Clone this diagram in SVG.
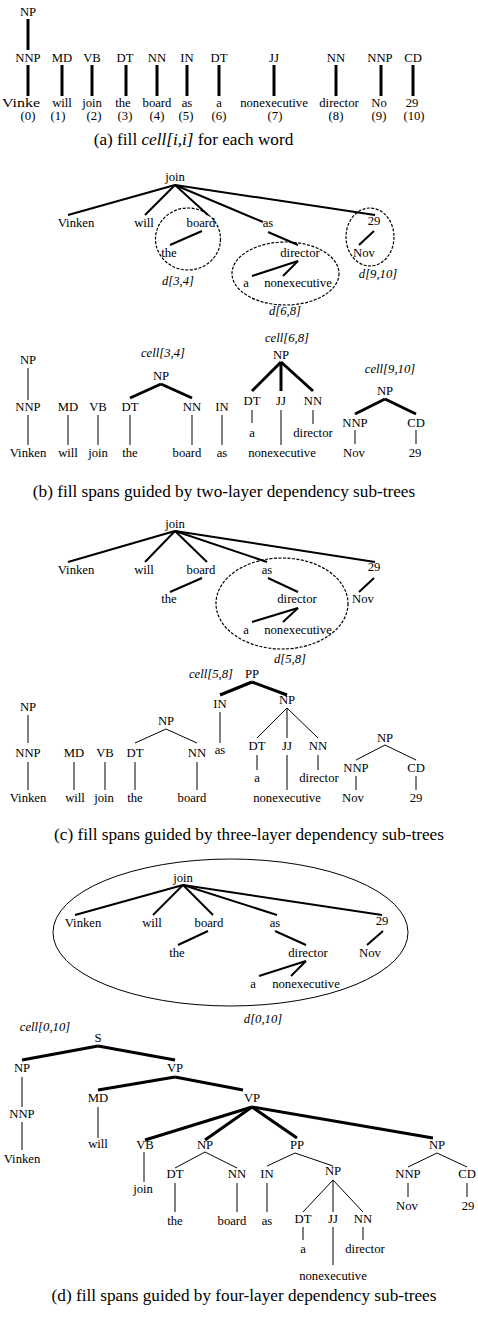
<svg xmlns="http://www.w3.org/2000/svg" width="478" height="1321" viewBox="0 0 478 1321">
<style>
text{font-family:"Liberation Serif","Times New Roman",serif;font-size:12.7px;text-anchor:middle;fill:#000}
.i{font-style:italic}
.cap{font-size:17.2px}
.k{stroke:#000;stroke-width:3;fill:none}
.d{stroke:#000;stroke-width:2;fill:none}
.n{stroke:#000;stroke-width:1;fill:none}
.e{fill:none;stroke:#000;stroke-width:1.2;stroke-dasharray:3 1.5}
.o{fill:none;stroke:#000;stroke-width:1}
</style>
<rect width="478" height="1321" fill="#fff"/>

<!-- ========== (a) ========== -->
<g id="a-nodes">
<g id="a-np"><text x="28" y="16">NP</text></g>
<g id="a-nnp"><text x="28" y="62">NNP</text></g>
<g id="a-md"><text x="62" y="62">MD</text></g>
<g id="a-vb"><text x="92" y="62">VB</text></g>
<g id="a-dt1"><text x="125" y="62">DT</text></g>
<g id="a-nn1"><text x="157" y="62">NN</text></g>
<g id="a-in"><text x="187" y="62">IN</text></g>
<g id="a-dt2"><text x="219" y="62">DT</text></g>
<g id="a-jj"><text x="274" y="62">JJ</text></g>
<g id="a-nn2"><text x="336" y="62">NN</text></g>
<g id="a-nnp2"><text x="380" y="62">NNP</text></g>
<g id="a-cd"><text x="413" y="62">CD</text></g>
<g id="a-w0"><text x="2" y="107" style="text-anchor:start" textLength="38" lengthAdjust="spacingAndGlyphs">Vinke</text><text x="28" y="119.5">(0)</text></g>
<g id="a-w1"><text x="62" y="107">will</text><text x="58" y="119.5">(1)</text></g>
<g id="a-w2"><text x="92" y="107">join</text><text x="94" y="119.5">(2)</text></g>
<g id="a-w3"><text x="123" y="107">the</text><text x="125" y="119.5">(3)</text></g>
<g id="a-w4"><text x="157" y="107">board</text><text x="157" y="119.5">(4)</text></g>
<g id="a-w5"><text x="187" y="107">as</text><text x="186" y="119.5">(5)</text></g>
<g id="a-w6"><text x="219" y="107">a</text><text x="219" y="119.5">(6)</text></g>
<g id="a-w7"><text x="274" y="107">nonexecutive</text><text x="275" y="119.5">(7)</text></g>
<g id="a-w8"><text x="339" y="107">director</text><text x="336" y="119.5">(8)</text></g>
<g id="a-w9"><text x="379" y="107">No</text><text x="379" y="119.5">(9)</text></g>
<g id="a-w10"><text x="412" y="107">29</text><text x="414" y="119.5">(10)</text></g>
<g id="a-caption"><text class="cap" x="193.5" y="145">(a) fill <tspan class="i">cell[i,i]</tspan> for each word</text></g>
</g>
<g id="a-connectors" class="k">
<line x1="28" y1="19" x2="28" y2="50"/>
<line x1="28" y1="65" x2="28" y2="96"/>
<line x1="62" y1="65" x2="62" y2="96"/>
<line x1="92" y1="65" x2="92" y2="96"/>
<line x1="126" y1="65" x2="126" y2="96"/>
<line x1="157" y1="65" x2="157" y2="96"/>
<line x1="187" y1="65" x2="187" y2="96"/>
<line x1="219" y1="65" x2="219" y2="96"/>
<line x1="274" y1="65" x2="274" y2="96"/>
<line x1="336" y1="65" x2="336" y2="96"/>
<line x1="381" y1="65" x2="381" y2="96"/>
<line x1="413" y1="65" x2="413" y2="96"/>
</g>

<!-- ========== (b) dependency ========== -->
<g id="b-dep-nodes">
<g id="bd-join"><text x="175" y="181">join</text></g>
<g id="bd-vinken"><text x="76" y="227">Vinken</text></g>
<g id="bd-will"><text x="144" y="227">will</text></g>
<g id="bd-board"><text x="201" y="227">board</text></g>
<g id="bd-as"><text x="268" y="227">as</text></g>
<g id="bd-29"><text x="374" y="225">29</text></g>
<g id="bd-the"><text x="169" y="257">the</text></g>
<g id="bd-director"><text x="300" y="257">director</text></g>
<g id="bd-nov"><text x="364" y="257">Nov</text></g>
<g id="bd-a"><text x="246" y="287">a</text></g>
<g id="bd-nonexec"><text x="298" y="287">nonexecutive</text></g>
<g id="bd-d34"><ellipse class="e" cx="188" cy="239" rx="32.5" ry="31"/><text class="i" x="178" y="285">d[3,4]</text></g>
<g id="bd-d68"><ellipse class="e" cx="285.5" cy="273.5" rx="53.5" ry="31.5"/><text class="i" x="285" y="315">d[6,8]</text></g>
<g id="bd-d910"><ellipse class="e" cx="370" cy="237" rx="24" ry="29"/><text class="i" x="378" y="278">d[9,10]</text></g>
</g>
<g id="b-dep-connectors" class="d">
<line x1="175" y1="185" x2="68" y2="215"/>
<line x1="175" y1="185" x2="145" y2="215"/>
<line x1="175" y1="185" x2="208" y2="215"/>
<line x1="175" y1="185" x2="263" y2="222"/>
<line x1="175" y1="185" x2="375" y2="215"/>
<line x1="202" y1="231" x2="170" y2="245"/>
<line x1="268" y1="232" x2="298" y2="245"/>
<line x1="374" y1="231" x2="359" y2="245"/>
<line x1="298" y1="261" x2="252" y2="276"/>
<line x1="298" y1="261" x2="283" y2="276"/>
</g>

<!-- ========== (b) constituency ========== -->
<g id="b-con-nodes">
<g id="bc-np0"><text x="28" y="364">NP</text></g>
<g id="bc-nnp"><text x="28" y="411">NNP</text></g>
<g id="bc-vinken"><text x="28" y="457">Vinken</text></g>
<g id="bc-md"><text x="68" y="411">MD</text></g>
<g id="bc-will"><text x="68" y="457">will</text></g>
<g id="bc-vb"><text x="98" y="411">VB</text></g>
<g id="bc-join"><text x="98" y="457">join</text></g>
<g id="bc-cell34"><text class="i" x="163" y="357">cell[3,4]</text></g>
<g id="bc-np34"><text x="161" y="380">NP</text></g>
<g id="bc-dt3"><text x="130" y="411">DT</text></g>
<g id="bc-the"><text x="130" y="457">the</text></g>
<g id="bc-nn4"><text x="192" y="411">NN</text></g>
<g id="bc-board"><text x="187" y="457">board</text></g>
<g id="bc-in"><text x="222" y="411">IN</text></g>
<g id="bc-as"><text x="222" y="457">as</text></g>
<g id="bc-cell68"><text class="i" x="287" y="342">cell[6,8]</text></g>
<g id="bc-np68"><text x="281" y="359">NP</text></g>
<g id="bc-dt6"><text x="252" y="405">DT</text></g>
<g id="bc-a"><text x="252" y="437">a</text></g>
<g id="bc-jj"><text x="281" y="405">JJ</text></g>
<g id="bc-nonexec"><text x="282" y="457">nonexecutive</text></g>
<g id="bc-nn8"><text x="313" y="405">NN</text></g>
<g id="bc-director"><text x="313" y="437">director</text></g>
<g id="bc-cell910"><text class="i" x="390" y="373">cell[9,10]</text></g>
<g id="bc-np910"><text x="385" y="395">NP</text></g>
<g id="bc-nnp9"><text x="355" y="427">NNP</text></g>
<g id="bc-nov"><text x="354" y="457">Nov</text></g>
<g id="bc-cd"><text x="416" y="427">CD</text></g>
<g id="bc-29"><text x="415" y="457">29</text></g>
<g id="b-caption"><text class="cap" x="224" y="497">(b) fill spans guided by two-layer dependency sub-trees</text></g>
</g>
<g id="b-con-connectors">
<g class="n">
<line x1="28" y1="368" x2="28" y2="400"/>
<line x1="28" y1="415" x2="28" y2="445"/>
<line x1="68" y1="415" x2="68" y2="445"/>
<line x1="98" y1="415" x2="98" y2="445"/>
<line x1="130" y1="415" x2="130" y2="445"/>
<line x1="192" y1="415" x2="192" y2="445"/>
<line x1="222" y1="415" x2="222" y2="445"/>
<line x1="252" y1="410" x2="252" y2="423"/>
<line x1="281" y1="410" x2="281" y2="445"/>
<line x1="313" y1="410" x2="313" y2="424"/>
<line x1="355" y1="430" x2="355" y2="444"/>
<line x1="416" y1="430" x2="416" y2="444"/>
</g>
<g class="k">
<line x1="161" y1="384" x2="130" y2="398"/>
<line x1="161" y1="384" x2="192" y2="398"/>
<line x1="281" y1="362" x2="252" y2="391"/>
<line x1="281" y1="362" x2="281" y2="391"/>
<line x1="281" y1="362" x2="313" y2="391"/>
<line x1="385" y1="399" x2="355" y2="414"/>
<line x1="385" y1="399" x2="416" y2="414"/>
</g>
</g>

<!-- ========== (c) dependency ========== -->
<g id="c-dep-nodes">
<g id="cd-join"><text x="175" y="528">join</text></g>
<g id="cd-vinken"><text x="76" y="574">Vinken</text></g>
<g id="cd-will"><text x="144" y="574">will</text></g>
<g id="cd-board"><text x="201" y="574">board</text></g>
<g id="cd-as"><text x="267" y="574">as</text></g>
<g id="cd-29"><text x="374" y="571">29</text></g>
<g id="cd-the"><text x="169" y="603">the</text></g>
<g id="cd-director"><text x="297" y="603">director</text></g>
<g id="cd-nov"><text x="363" y="603">Nov</text></g>
<g id="cd-a"><text x="246" y="634">a</text></g>
<g id="cd-nonexec"><text x="298" y="634">nonexecutive</text></g>
<g id="cd-d58"><ellipse class="e" cx="282" cy="603.5" rx="66" ry="45.5"/><text class="i" x="290" y="663">d[5,8]</text></g>
</g>
<g id="c-dep-connectors" class="d">
<line x1="175" y1="531" x2="68" y2="562"/>
<line x1="175" y1="531" x2="145" y2="562"/>
<line x1="175" y1="531" x2="207" y2="562"/>
<line x1="175" y1="531" x2="267" y2="562"/>
<line x1="175" y1="531" x2="375" y2="562"/>
<line x1="202" y1="578" x2="170" y2="592"/>
<line x1="268" y1="578" x2="298" y2="592"/>
<line x1="374" y1="578" x2="359" y2="592"/>
<line x1="298" y1="608" x2="252" y2="622"/>
<line x1="298" y1="608" x2="283" y2="622"/>
</g>

<!-- ========== (c) constituency ========== -->
<g id="c-con-nodes">
<g id="cc-cell58"><text class="i" x="211" y="678">cell[5,8]</text></g>
<g id="cc-pp"><text x="252" y="678">PP</text></g>
<g id="cc-in"><text x="220" y="708">IN</text></g>
<g id="cc-as"><text x="220" y="754">as</text></g>
<g id="cc-np68"><text x="287" y="704">NP</text></g>
<g id="cc-dt6"><text x="257" y="750">DT</text></g>
<g id="cc-a"><text x="257" y="782">a</text></g>
<g id="cc-jj"><text x="287" y="750">JJ</text></g>
<g id="cc-nonexec"><text x="287" y="802">nonexecutive</text></g>
<g id="cc-nn8"><text x="318" y="750">NN</text></g>
<g id="cc-director"><text x="319" y="782">director</text></g>
<g id="cc-np0"><text x="28" y="711">NP</text></g>
<g id="cc-nnp"><text x="28" y="757">NNP</text></g>
<g id="cc-vinken"><text x="28" y="802">Vinken</text></g>
<g id="cc-md"><text x="74" y="757">MD</text></g>
<g id="cc-will"><text x="75" y="802">will</text></g>
<g id="cc-vb"><text x="105" y="757">VB</text></g>
<g id="cc-join"><text x="104" y="802">join</text></g>
<g id="cc-np34"><text x="166" y="725">NP</text></g>
<g id="cc-dt3"><text x="135" y="757">DT</text></g>
<g id="cc-the"><text x="135" y="802">the</text></g>
<g id="cc-nn4"><text x="197" y="757">NN</text></g>
<g id="cc-board"><text x="192" y="802">board</text></g>
<g id="cc-np910"><text x="385" y="742">NP</text></g>
<g id="cc-nnp9"><text x="356" y="772">NNP</text></g>
<g id="cc-nov"><text x="353" y="802">Nov</text></g>
<g id="cc-cd"><text x="416" y="772">CD</text></g>
<g id="cc-29"><text x="416" y="802">29</text></g>
<g id="c-caption"><text class="cap" x="249" y="840">(c) fill spans guided by three-layer dependency sub-trees</text></g>
</g>
<g id="c-con-connectors">
<g class="k">
<line x1="252" y1="682" x2="220" y2="695"/>
<line x1="252" y1="682" x2="287" y2="695"/>
</g>
<g class="n">
<line x1="220" y1="712" x2="220" y2="743"/>
<line x1="287" y1="708" x2="257" y2="738"/>
<line x1="287" y1="708" x2="287" y2="738"/>
<line x1="287" y1="708" x2="318" y2="738"/>
<line x1="257" y1="755" x2="257" y2="770"/>
<line x1="287" y1="755" x2="287" y2="790"/>
<line x1="318" y1="755" x2="318" y2="770"/>
<line x1="28" y1="715" x2="28" y2="743"/>
<line x1="28" y1="762" x2="28" y2="790"/>
<line x1="74" y1="762" x2="74" y2="790"/>
<line x1="105" y1="762" x2="105" y2="790"/>
<line x1="166" y1="729" x2="135" y2="743"/>
<line x1="166" y1="729" x2="197" y2="743"/>
<line x1="135" y1="762" x2="135" y2="790"/>
<line x1="197" y1="762" x2="197" y2="790"/>
<line x1="385" y1="745" x2="356" y2="760"/>
<line x1="385" y1="745" x2="416" y2="760"/>
<line x1="356" y1="776" x2="356" y2="790"/>
<line x1="416" y1="776" x2="416" y2="790"/>
</g>
</g>

<!-- ========== (d) dependency ========== -->
<g id="d-dep-nodes">
<g id="dd-d010"><ellipse class="o" cx="230.5" cy="932.5" rx="177.5" ry="73.5"/><text class="i" x="263" y="1023">d[0,10]</text></g>
<g id="dd-join"><text x="183" y="882">join</text></g>
<g id="dd-vinken"><text x="83" y="927">Vinken</text></g>
<g id="dd-will"><text x="152" y="927">will</text></g>
<g id="dd-board"><text x="209" y="927">board</text></g>
<g id="dd-as"><text x="275" y="927">as</text></g>
<g id="dd-29"><text x="382" y="925">29</text></g>
<g id="dd-the"><text x="177" y="957">the</text></g>
<g id="dd-director"><text x="308" y="957">director</text></g>
<g id="dd-nov"><text x="370" y="957">Nov</text></g>
<g id="dd-a"><text x="253" y="988">a</text></g>
<g id="dd-nonexec"><text x="306" y="988">nonexecutive</text></g>
</g>
<g id="d-dep-connectors" class="d">
<line x1="183" y1="885" x2="75" y2="915"/>
<line x1="183" y1="885" x2="153" y2="915"/>
<line x1="183" y1="885" x2="213" y2="915"/>
<line x1="183" y1="885" x2="277" y2="915"/>
<line x1="183" y1="885" x2="382" y2="915"/>
<line x1="208" y1="931" x2="178" y2="945"/>
<line x1="275" y1="931" x2="306" y2="945"/>
<line x1="383" y1="931" x2="367" y2="945"/>
<line x1="306" y1="961" x2="259" y2="976"/>
<line x1="306" y1="961" x2="291" y2="976"/>
</g>

<!-- ========== (d) constituency ========== -->
<g id="d-con-nodes">
<g id="dc-cell010"><text class="i" x="45" y="1031">cell[0,10]</text></g>
<g id="dc-s"><text x="98" y="1042">S</text></g>
<g id="dc-np0"><text x="22" y="1072">NP</text></g>
<g id="dc-nnp"><text x="22" y="1118">NNP</text></g>
<g id="dc-vinken"><text x="22" y="1163">Vinken</text></g>
<g id="dc-vp1"><text x="175" y="1072">VP</text></g>
<g id="dc-md"><text x="98" y="1102">MD</text></g>
<g id="dc-will"><text x="98" y="1148">will</text></g>
<g id="dc-vp2"><text x="252" y="1102">VP</text></g>
<g id="dc-vb"><text x="145" y="1149">VB</text></g>
<g id="dc-join"><text x="143" y="1193">join</text></g>
<g id="dc-np34"><text x="205" y="1149">NP</text></g>
<g id="dc-dt3"><text x="175" y="1178">DT</text></g>
<g id="dc-the"><text x="175" y="1225">the</text></g>
<g id="dc-nn4"><text x="237" y="1178">NN</text></g>
<g id="dc-board"><text x="232" y="1225">board</text></g>
<g id="dc-pp"><text x="297" y="1149">PP</text></g>
<g id="dc-in"><text x="267" y="1178">IN</text></g>
<g id="dc-as"><text x="267" y="1225">as</text></g>
<g id="dc-np68"><text x="333" y="1175">NP</text></g>
<g id="dc-dt6"><text x="303" y="1223">DT</text></g>
<g id="dc-a"><text x="303" y="1253">a</text></g>
<g id="dc-jj"><text x="333" y="1223">JJ</text></g>
<g id="dc-nonexec"><text x="333" y="1280">nonexecutive</text></g>
<g id="dc-nn8"><text x="363" y="1223">NN</text></g>
<g id="dc-director"><text x="365" y="1253">director</text></g>
<g id="dc-np910"><text x="437" y="1149">NP</text></g>
<g id="dc-nnp9"><text x="408" y="1178">NNP</text></g>
<g id="dc-nov"><text x="407" y="1210">Nov</text></g>
<g id="dc-cd"><text x="467" y="1178">CD</text></g>
<g id="dc-29"><text x="468" y="1210">29</text></g>
<g id="d-caption"><text class="cap" x="244" y="1301">(d) fill spans guided by four-layer dependency sub-trees</text></g>
</g>
<g id="d-con-connectors">
<g class="k">
<line x1="98" y1="1046" x2="22" y2="1060"/>
<line x1="98" y1="1046" x2="175" y2="1060"/>
<line x1="175" y1="1077" x2="98" y2="1090"/>
<line x1="175" y1="1077" x2="243" y2="1090"/>
<line x1="252" y1="1107" x2="145" y2="1140"/>
<line x1="252" y1="1107" x2="205" y2="1140"/>
<line x1="252" y1="1107" x2="297" y2="1138"/>
<line x1="252" y1="1107" x2="433" y2="1138"/>
</g>
<g class="n">
<line x1="22" y1="1077" x2="22" y2="1107"/>
<line x1="22" y1="1122" x2="22" y2="1150"/>
<line x1="98" y1="1107" x2="98" y2="1138"/>
<line x1="144" y1="1152" x2="144" y2="1182"/>
<line x1="205" y1="1152" x2="175" y2="1168"/>
<line x1="205" y1="1152" x2="237" y2="1168"/>
<line x1="175" y1="1183" x2="175" y2="1212"/>
<line x1="237" y1="1183" x2="237" y2="1212"/>
<line x1="295" y1="1153" x2="267" y2="1166"/>
<line x1="295" y1="1153" x2="333" y2="1166"/>
<line x1="267" y1="1183" x2="267" y2="1212"/>
<line x1="333" y1="1180" x2="303" y2="1212"/>
<line x1="333" y1="1180" x2="333" y2="1212"/>
<line x1="333" y1="1180" x2="363" y2="1212"/>
<line x1="303" y1="1227" x2="303" y2="1240"/>
<line x1="333" y1="1227" x2="333" y2="1265"/>
<line x1="363" y1="1227" x2="363" y2="1240"/>
<line x1="437" y1="1153" x2="408" y2="1167"/>
<line x1="437" y1="1153" x2="467" y2="1167"/>
<line x1="408" y1="1183" x2="408" y2="1197"/>
<line x1="467" y1="1183" x2="467" y2="1197"/>
</g>
</g>
</svg>
